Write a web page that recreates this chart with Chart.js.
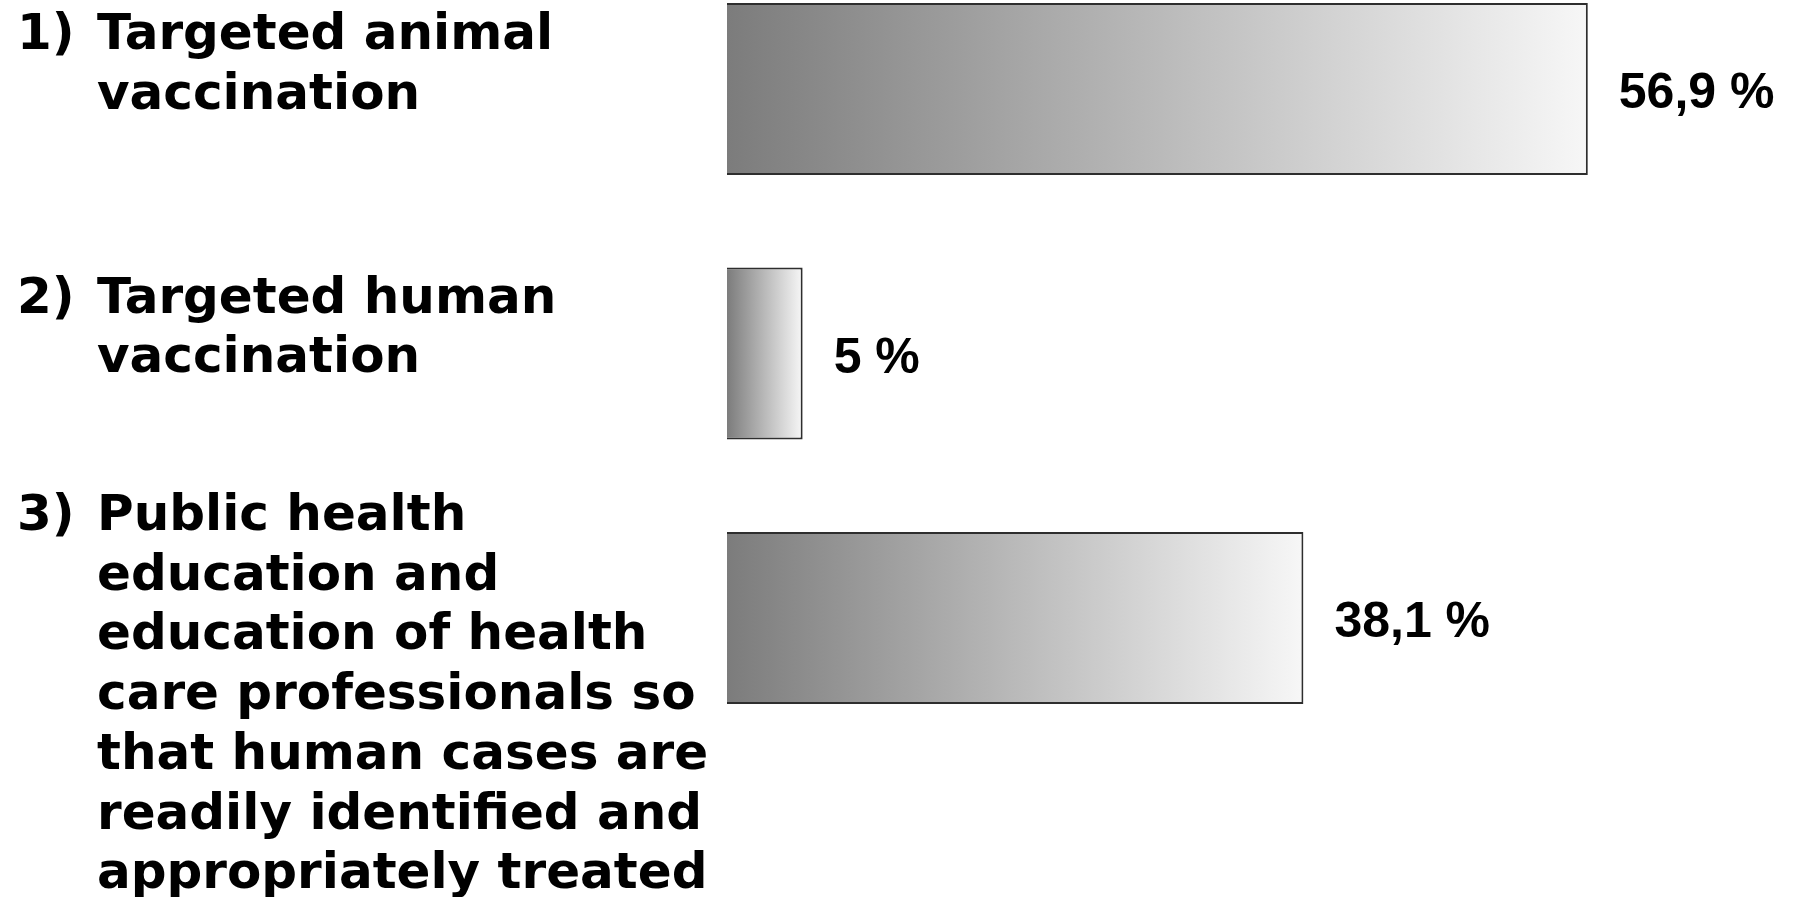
<!DOCTYPE html>
<html>
<head>
<meta charset="utf-8">
<title>Measures</title>
<script src="https://cdn.jsdelivr.net/npm/chart.js@4"></script>
<style>
  html, body { margin: 0; padding: 0; background: #fff; }
  #wrap { width: 1798px; height: 897px; }
</style>
</head>
<body>
<div id="wrap"><canvas id="measures"></canvas></div>
<script>
const itemNumbers = ["1)", "2)", "3)"];
const itemLines = [
  ["Targeted animal", "vaccination"],
  ["Targeted human", "vaccination"],
  [
    "Public health",
    "education and",
    "education of health",
    "care professionals so",
    "that human cases are",
    "readily identified and",
    "appropriately treated",
  ],
];
const shares = [56.9, 5, 38.1];

// first text baseline, measured from the bar centre
const labelLift = [-40, -41, -88];

function shareText(v) {
  return String(v).replace(".", ",") + " %";
}

function barGradient(context) {
  const chart = context.chart;
  const x = chart.scales.x;
  if (!chart.chartArea || !x) return "#b0b0b0";
  const left = x.getPixelForValue(0);
  const right = x.getPixelForValue(context.raw);
  const g = chart.ctx.createLinearGradient(left, 0, right, 0);
  g.addColorStop(0, "#7c7c7c");
  g.addColorStop(1, "#f7f7f7");
  return g;
}

const textPlugin = {
  id: "barTexts",
  afterDatasetsDraw(chart) {
    const ctx = chart.ctx;
    const x = chart.scales.x;
    const y = chart.scales.y;
    ctx.save();
    ctx.fillStyle = "#000";
    ctx.textBaseline = "alphabetic";

    // category texts on the left, with a hanging indent after the number
    ctx.font = "bold 50px 'DejaVu Sans'";
    ctx.textAlign = "left";
    itemLines.forEach((lines, i) => {
      const top = y.getPixelForValue(i) + labelLift[i];
      ctx.fillText(itemNumbers[i], 17, top);
      lines.forEach((line, j) => {
        ctx.fillText(line, 97, top + j * 59.7);
      });
    });

    // values right of each bar
    ctx.font = "bold 50px 'Liberation Sans'";
    shares.forEach((v, i) => {
      ctx.fillText(shareText(v), x.getPixelForValue(v) + 31, y.getPixelForValue(i) + 19);
    });
    ctx.restore();
  },
};

new Chart(document.getElementById("measures"), {
  type: "bar",
  data: {
    labels: itemNumbers,
    datasets: [
      {
        data: shares,
        backgroundColor: barGradient,
        borderColor: "#2e2e2e",
        borderWidth: 2,
        borderSkipped: "start",
        barPercentage: 0.65,
        categoryPercentage: 1,
        clip: false,
      },
    ],
  },
  options: {
    indexAxis: "y",
    responsive: true,
    maintainAspectRatio: false,
    animation: false,
    layout: {
      padding: { left: 727, right: 12, top: 89, bottom: 279 },
    },
    scales: {
      x: { min: 0, max: 70, display: false },
      y: { offset: false, display: false },
    },
    plugins: {
      legend: { display: false },
      tooltip: { enabled: false },
    },
  },
  plugins: [textPlugin],
});
</script>
</body>
</html>
